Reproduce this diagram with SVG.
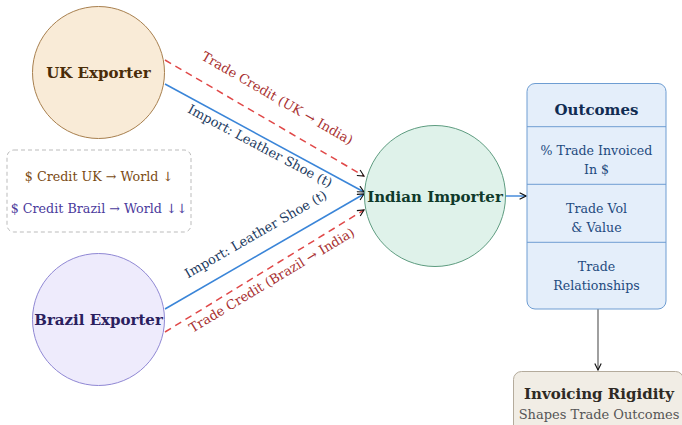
<svg xmlns="http://www.w3.org/2000/svg" width="682" height="425" viewBox="0 0 682 425">
<defs>
<marker id="ah" viewBox="0 0 10 10" refX="9" refY="5" markerWidth="8" markerHeight="8" markerUnits="userSpaceOnUse" orient="auto">
<path d="M1,1 L9,5 L1,9" fill="none" stroke="#111" stroke-width="1.4"/>
</marker>
<style>
text{font-family:"DejaVu Serif","Liberation Serif",serif;}
.nl{font-size:15px;font-weight:bold;text-anchor:middle;}
.el{font-size:13px;text-anchor:middle;}
.imp{stroke:#3a85d8;stroke-width:1.6;fill:none;}
.cred{stroke:#e04848;stroke-width:1.5;fill:none;stroke-dasharray:7,5;}
.bt{font-size:12.6px;text-anchor:middle;fill:#1e4a7e;}
</style>
</defs>
<rect width="682" height="425" fill="#fff"/>
<g id="connectors">
<line class="cred" x1="165" y1="60" x2="364" y2="176" marker-end="url(#ah)"/>
<line class="imp" x1="165" y1="84" x2="364" y2="192" marker-end="url(#ah)"/>
<line class="imp" x1="165" y1="309" x2="364" y2="194" marker-end="url(#ah)"/>
<line class="cred" x1="165" y1="332" x2="364" y2="210" marker-end="url(#ah)"/>
<line x1="505" y1="196" x2="526" y2="196" stroke="#3a85d8" stroke-width="1.4" marker-end="url(#ah)"/>
<line x1="598" y1="309" x2="598" y2="370" stroke="#777" stroke-width="1.4" marker-end="url(#ah)"/>
<text class="el" fill="#a83030" transform="translate(275,102) rotate(30)">Trade Credit (UK → India)</text>
<text class="el" fill="#1c3a60" transform="translate(258,150) rotate(28)">Import: Leather Shoe (t)</text>
<text class="el" fill="#1c3a60" transform="translate(258,238) rotate(-30)">Import: Leather Shoe (t)</text>
<text class="el" fill="#a83030" transform="translate(274,284) rotate(-31)">Trade Credit (Brazil → India)</text>
</g>
<g id="uk">
<circle cx="98.5" cy="72.5" r="66" fill="#f9ebd7" stroke="#a8804f" stroke-width="1"/>
<text class="nl" x="98.5" y="78" fill="#4a2c08">UK Exporter</text>
</g>
<g id="brazil">
<circle cx="98.5" cy="319.5" r="66" fill="#eeebfc" stroke="#9088d4" stroke-width="1"/>
<text class="nl" x="98.5" y="325" fill="#2a205e">Brazil Exporter</text>
</g>
<g id="importer">
<circle cx="435" cy="196" r="70.5" fill="#dff2ea" stroke="#5e9c80" stroke-width="1"/>
<text class="nl" x="435" y="201.5" fill="#0f3a2a">Indian Importer</text>
</g>
<g id="legend">
<rect x="7" y="150" width="184" height="82" rx="7" fill="#fff" stroke="#bbb" stroke-width="1" stroke-dasharray="4,3"/>
<text x="99" y="181" font-size="12.7" text-anchor="middle" fill="#7a4a12">$ Credit UK → World ↓</text>
<text x="99" y="213" font-size="12.7" text-anchor="middle" fill="#4a3a9c">$ Credit Brazil → World ↓↓</text>
</g>
<g id="outcomes">
<rect x="527" y="83.5" width="139" height="225.5" rx="8" fill="#e4eefa" stroke="#6e9dd2" stroke-width="1"/>
<line x1="527" y1="126.7" x2="666" y2="126.7" stroke="#6e9dd2" stroke-width="1"/>
<line x1="527" y1="184.3" x2="666" y2="184.3" stroke="#6e9dd2" stroke-width="1"/>
<line x1="527" y1="242.3" x2="666" y2="242.3" stroke="#6e9dd2" stroke-width="1"/>
<text x="596.5" y="115" font-size="15" font-weight="bold" text-anchor="middle" fill="#102c52">Outcomes</text>
<text class="bt" x="596.5" y="155">% Trade Invoiced</text>
<text class="bt" x="596.5" y="174">In $</text>
<text class="bt" x="596.5" y="213">Trade Vol</text>
<text class="bt" x="596.5" y="232">&amp; Value</text>
<text class="bt" x="596.5" y="271">Trade</text>
<text class="bt" x="596.5" y="290">Relationships</text>
</g>
<g id="rigidity">
<rect x="513.5" y="371.5" width="170" height="70" rx="8" fill="#f1ede5" stroke="#b4ab9c" stroke-width="1"/>
<text x="599" y="399" font-size="15" font-weight="bold" text-anchor="middle" fill="#2e2a24">Invoicing Rigidity</text>
<text x="599" y="419" font-size="13" text-anchor="middle" fill="#555">Shapes Trade Outcomes</text>
</g>
</svg>
